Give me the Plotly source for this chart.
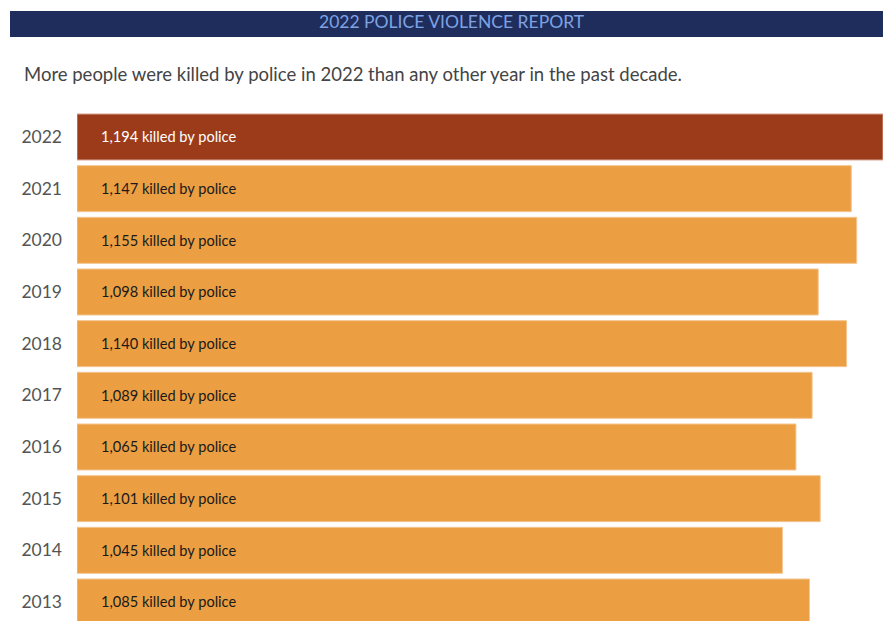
import plotly.graph_objects as go

years = ["2022", "2021", "2020", "2019", "2018", "2017", "2016", "2015", "2014", "2013"]
killed = [1194, 1147, 1155, 1098, 1140, 1089, 1065, 1101, 1045, 1085]
labels = [f"{v:,} killed by police" for v in killed]

W, H = 883, 621
ML, MR, MT, MB = 77, 0, 111, 0
PW, PH = W - ML - MR, H - MT - MB

def px(x):
    return (x - ML) / PW

def py(y):
    return (H - MB - y) / PH

colors = ["#9c3b1a"] + ["#ec9e42"] * (len(years) - 1)
edge = ["#d9a08c"] + ["#f3c48e"] * (len(years) - 1)
txtcol = ["#ffffff"] + ["#1a1a1a"] * (len(years) - 1)

idx = list(range(len(years)))
fig = go.Figure(go.Bar(
    x=killed, y=idx, orientation="h",
    marker=dict(color=colors, line=dict(color=edge, width=1)),
    width=0.89, hoverinfo="skip",
))

annotations = []
for i, (lab, c) in enumerate(zip(labels, txtcol)):
    annotations.append(dict(x=0, y=i, xref="x", yref="y", text=lab, showarrow=False,
                            xanchor="left", xshift=22, font=dict(family="Lato", size=14.6, color=c)))

annotations.append(dict(x=px(452), y=py(22), xref="paper", yref="paper",
                        text="2022 POLICE VIOLENCE REPORT", showarrow=False,
                        xanchor="center", yanchor="middle",
                        font=dict(family="Lato", size=17.5, color="#7ea2e2")))
annotations.append(dict(x=px(22), y=py(74), xref="paper", yref="paper",
                        text="More people were killed by police in 2022 than any other year in the past decade.",
                        showarrow=False, xanchor="left", yanchor="middle",
                        font=dict(family="Lato", size=18.5, color="#444444")))

shapes = [dict(type="rect", xref="paper", yref="paper", x0=px(10), x1=px(883),
               y0=py(37), y1=py(11), fillcolor="#1f2d5c", line=dict(width=0), layer="above")]

fig.update_layout(
    width=W, height=H, margin=dict(l=ML, r=MR, t=MT, b=MB),
    paper_bgcolor="white", plot_bgcolor="white", showlegend=False,
    xaxis=dict(range=[0, 1194], visible=False, fixedrange=True),
    yaxis=dict(range=[9.368, -0.503], tickmode="array", tickvals=idx, ticktext=years,
               showgrid=False, zeroline=False, showline=False, ticks="",
               ticklabelstandoff=14, fixedrange=True,
               tickfont=dict(family="Lato", size=17.5, color="#555555")),
    annotations=annotations, shapes=shapes,
)

fig.write_html("out.html", config={"displayModeBar": False},
               post_script="document.body.style.margin='0';document.body.style.overflow='hidden';")
